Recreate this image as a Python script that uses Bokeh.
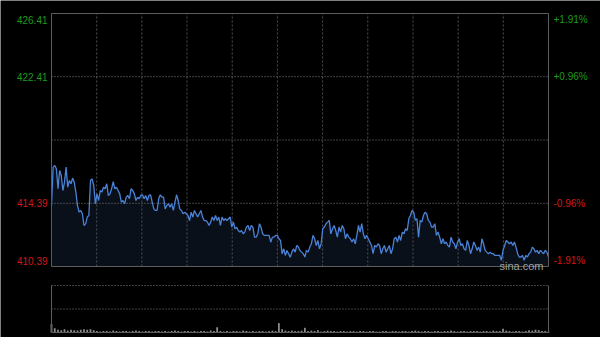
from bokeh.plotting import figure
from bokeh.models import Range1d
from bokeh.core.properties import value
from bokeh.embed import file_html
from bokeh.resources import INLINE

# ---------------- data ----------------
prices_first_half = [
    414.25, 416.68, 416.79, 416.58, 415.31, 416.47, 416.15, 415.20, 415.73, 416.68,
    415.41, 415.84, 415.63, 415.99, 415.73, 415.10, 414.25, 413.83, 413.94, 413.73,
    412.99, 413.09, 413.52, 413.62, 415.84, 415.94, 415.52, 414.36, 414.99, 414.57,
    415.20, 415.10, 415.41, 415.31, 415.63, 414.89, 414.99, 415.31, 415.77, 415.31,
    415.41, 415.20, 414.99, 414.47, 414.57, 414.36, 414.78, 414.89, 414.68, 415.31,
    415.20, 414.99, 414.57, 414.78, 414.68, 414.89, 414.93, 414.68, 414.89, 414.57,
    414.89, 414.93, 414.47, 414.04, 413.94, 413.94, 414.68, 414.93, 414.78, 414.78,
    414.04, 414.25, 414.36, 414.15, 414.36, 413.94, 414.47, 414.93, 414.57, 414.04,
    413.94, 413.73, 413.83, 413.73, 413.62, 413.30, 413.83, 413.52, 413.94, 413.73,
    413.52, 413.73, 413.94, 413.52, 413.30, 413.30, 413.20, 412.99, 413.20, 413.52,
    413.30, 413.62, 413.30, 413.52, 412.99, 413.52, 413.30, 413.41, 413.30, 413.41,
    413.52, 412.88, 413.20, 412.78, 412.88, 412.67, 412.57, 412.67, 412.46, 412.57,
    412.88, 412.99, 412.67, 412.99, 412.88, 412.25, 412.25, 412.46, 413.09, 412.88,
    412.46, 412.36, 412.36, 412.36, 412.36, 411.93, 412.25, 412.25, 412.36, 412.36,
    412.15, 412.04, 411.19, 411.51, 411.09, 411.40, 411.19, 410.98, 411.30, 411.51,
    411.30, 411.72, 411.62, 411.40,
]
prices_second_half = [
    411.30, 411.20, 410.99, 411.41, 411.30, 411.62, 411.83, 412.36, 412.15, 411.72,
    412.04, 411.51, 411.83, 412.78, 412.89, 413.10, 413.20, 413.31, 412.46, 412.78,
    412.99, 412.67, 412.25, 412.89, 412.57, 412.99, 412.78, 412.15, 412.46, 412.25,
    412.15, 411.94, 412.15, 411.83, 412.36, 412.99, 412.57, 413.10, 412.46, 412.15,
    412.36, 412.15, 411.94, 411.72, 411.20, 411.72, 411.62, 411.83, 411.72, 411.20,
    411.51, 411.72, 411.30, 411.51, 411.72, 411.20, 411.51, 412.15, 412.25, 411.94,
    412.36, 412.04, 412.57, 412.46, 412.78, 412.67, 413.41, 413.62, 413.94, 413.83,
    413.31, 413.41, 412.25, 413.31, 413.20, 413.62, 413.83, 413.73, 413.31, 413.20,
    412.89, 412.89, 413.10, 412.36, 412.57, 412.25, 411.83, 412.15, 411.83, 411.94,
    411.72, 411.62, 412.25, 411.94, 411.83, 411.51, 411.94, 412.15, 411.72, 411.83,
    411.51, 411.41, 412.04, 411.72, 411.20, 411.51, 411.94, 411.72, 411.41, 411.62,
    411.30, 412.15, 411.83, 411.41, 411.30, 411.20, 411.30, 411.20, 411.20, 411.09,
    411.09, 411.09, 411.09, 410.78, 411.41, 411.72, 412.04, 411.94, 411.83, 411.94,
    411.72, 411.94, 411.62, 411.20, 410.99, 410.99, 411.09, 410.78, 411.09, 410.99,
    411.20, 411.30, 411.62, 411.51, 411.30, 411.41, 411.20, 411.41, 411.30, 411.20,
    411.41, 411.30, 410.99,
]
volumes = [
    18, 9, 6, 5, 7, 4, 6, 5, 4, 6, 7, 6, 7, 5,
    3, 2, 3, 3, 2, 4, 3, 2, 3, 3, 2, 3, 4, 3, 2, 3, 3,
    2, 3, 3, 2, 3, 2, 3, 4, 3, 2, 3, 3, 2, 3, 2, 3, 3, 2, 4, 3,
    11,
    3, 2, 3, 2, 3, 3, 2, 4, 3, 2, 3, 2, 3, 3, 2, 3, 4, 3,
    20, 7,
    4, 3, 4, 3, 3,
    4, 10,
    3, 4, 3, 5, 2, 3, 4, 3, 3, 2, 3, 3, 2, 3, 3, 2, 3, 3, 2, 3, 3, 2,
    2, 3, 3, 2, 3, 3, 2, 3, 3, 2, 3, 4, 3, 2, 3, 3, 2, 3, 3, 2, 3, 3, 4, 3, 2, 3, 3, 2, 3, 3,
    3, 2, 3, 3, 2, 4, 3, 3, 8, 4, 3, 2, 3, 3, 2, 3, 5, 4, 6, 5, 3, 3, 2,
]
prev_close = 418.40
price_min = 410.39
price_max = 426.41
price_ticks = [426.41, 422.41, 414.39, 410.39]
price_labels = ["426.41", "422.41", "414.39", "410.39"]
pct_labels = ["+1.91%", "+0.96%", "-0.96%", "-1.91%"]
grid_levels = [422.41, 418.40, 414.39]
vol_max = 100
n_time_intervals = 11

prices = prices_first_half + prices_second_half
N = len(prices)
M = len(volumes)
idx = list(range(N))
vol_x = [i * (N - 1) / (M - 1) for i in range(M)]

# ---------------- layout (pixels) ----------------
W, H = 600, 337
L, R, T, B = 51, 548, 13, 266      # price panel
VT, VB = 285, 332                  # volume panel

s = (R - L) / (N - 1)
x_start = -L / s
x_end = (N - 1) + (W - R) / s
ppu = (B - T) / (price_max - price_min)
y_start = price_min - (H - B) / ppu
y_end = price_max + T / ppu
vppu = (VB - VT) / vol_max
v_start = -(H - VB) / vppu
v_end = vol_max + VT / vppu


def xd(px):
    return x_start + px / s


def yd(py):
    return y_end - py / ppu


p = figure(width=W, height=H, output_backend="svg", toolbar_location=None, tools="",
           x_range=Range1d(x_start, x_end), y_range=Range1d(y_start, y_end),
           x_axis_location=None, y_axis_location=None, min_border=0)
p.extra_y_ranges = {"vol": Range1d(v_start, v_end)}
p.background_fill_color = "black"
p.border_fill_color = "black"
p.outline_line_color = None
p.grid.grid_line_color = None

# area under the price line
p.varea(x=idx, y1=[price_min] * N, y2=prices, fill_color="#091019", fill_alpha=1.0)

# vertical time grid
vx = [k * (N - 1) / n_time_intervals for k in range(1, n_time_intervals)]
p.segment(x0=vx, y0=[price_min] * len(vx), x1=vx, y1=[price_max] * len(vx),
          line_color="#505050", line_width=1, line_dash="2 2")
# horizontal price grid
p.segment(x0=[0] * 3, y0=grid_levels, x1=[N - 1] * 3, y1=grid_levels,
          line_color="#808080", line_width=1, line_dash="1 2")

# price line
p.line(idx, prices, line_color="#4a82d8", line_width=1.3)

# price panel frame
p.quad(left=0, right=N - 1, bottom=price_min, top=price_max,
       fill_color=None, line_color="#5c5c5c", line_width=1)

# volume panel
p.vbar(x=vol_x, top=volumes, bottom=0, width=0.55 * (N - 1) / (M - 1),
       fill_color="#8c8c8c", line_color=None, y_range_name="vol")
p.segment(x0=[0, 0], y0=[vol_max, vol_max / 2], x1=[N - 1, N - 1], y1=[vol_max, vol_max / 2],
          line_color="#808080", line_width=1, line_dash="1 2", y_range_name="vol")
p.segment(x0=[0, N - 1, 0], y0=[0, 0, 0], x1=[0, N - 1, N - 1], y1=[vol_max, vol_max, 0],
          line_color="#5c5c5c", line_width=1, y_range_name="vol")

# labels
colors = ["#1d9a1d", "#1d9a1d", "#d01818", "#d01818"]
offsets = [6, 0, 0, -6]
p.text(x=[xd(47)] * 4, y=price_ticks, text=price_labels, y_offset=offsets,
       text_color=colors, text_align="right", text_baseline="middle",
       text_font=value("Liberation Sans"), text_font_size="10px")
p.text(x=[xd(553)] * 4, y=price_ticks, text=pct_labels, y_offset=offsets,
       text_color=colors, text_align="left", text_baseline="middle",
       text_font=value("Liberation Sans"), text_font_size="10px")

# watermark
p.text(x=[xd(499)], y=[yd(265)], text=["sina.com"], text_color="#a0a0a0",
       text_align="left", text_baseline="alphabetic",
       text_font=value("Liberation Sans"), text_font_size="11px")

open("out.html", "w").write(file_html(p, INLINE))
